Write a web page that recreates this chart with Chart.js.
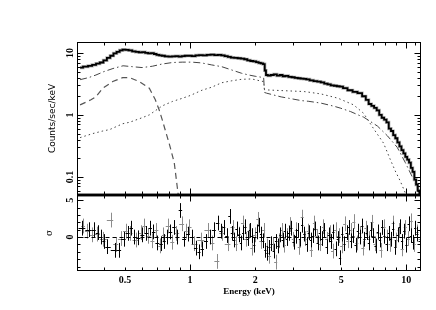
<!DOCTYPE html>
<html><head><meta charset="utf-8">
<script src="https://cdn.jsdelivr.net/npm/chart.js@4/dist/chart.umd.min.js"></script>
<style>
html,body{margin:0;padding:0;background:#fff;}
#wrap{position:relative;width:436px;height:310px;background:#fff;overflow:hidden;}
#top{position:absolute;left:0;top:0;}
#bot{position:absolute;left:0;top:190px;}
</style></head><body>
<div id="wrap">
<canvas id="top" width="436" height="200"></canvas>
<canvas id="bot" width="436" height="120"></canvas>
</div>
<script>
// ---- Observed spectrum (counts/sec/keV) ----
const E_DATA = [0.31,0.33,0.345,0.36,0.375,0.39,0.405,0.42,0.435,0.45,
0.465,0.48,0.495,0.51,0.53,0.55,0.57,0.59,0.61,0.63,
0.65,0.67,0.69,0.71,0.73,0.75,0.78,0.81,0.84,0.87,
0.90,0.93,0.96,1.0,1.04,1.08,1.12,1.17,1.22,1.27,
1.32,1.37,1.42,1.47,1.52,1.57,1.63,1.69,1.75,1.81,
1.87,1.93,1.99,2.05,2.1,2.15,2.2,2.23,2.26,2.32,
2.4,2.48,2.56,2.64,2.72,2.8,2.9,3.0,3.1,3.2,
3.3,3.4,3.5,3.65,3.8,3.95,4.1,4.25,4.4,4.55,
4.7,4.85,5.0,5.2,5.5,5.8,6.1,6.4,6.6,6.8,
7.0,7.2,7.4,7.6,7.8,8.0,8.2,8.4,8.6,8.8,
9.0,9.2,9.4,9.6,9.8,10.0,10.2,10.4,10.6,10.8,
11.0,11.2,11.4,11.6];
const RATE = [5.8,6.0,6.2,6.4,6.7,7.0,7.6,8.3,9.0,9.8,
10.4,11.0,11.3,11.2,11.0,10.6,10.4,10.2,10.3,10.0,
9.8,9.9,9.6,9.3,9.1,9.0,8.8,8.7,8.8,8.9,
8.7,8.9,9.0,9.0,8.9,9.1,9.2,9.1,9.3,9.4,
9.2,9.3,9.1,8.9,8.6,8.4,8.3,8.2,8.1,7.9,
7.6,7.4,7.3,7.1,6.9,6.8,6.6,5.2,4.4,4.3,
4.4,4.5,4.3,4.4,4.2,4.25,4.1,4.05,3.95,3.9,
3.85,3.8,3.75,3.6,3.5,3.45,3.35,3.2,3.1,3.0,
2.95,2.9,2.85,2.7,2.5,2.35,2.25,2.0,1.75,1.5,
1.4,1.3,1.18,1.0,0.9,0.84,0.76,0.6,0.55,0.47,
0.42,0.36,0.31,0.27,0.24,0.21,0.19,0.17,0.14,0.12,
0.09,0.075,0.06,0.05];

// ---- Model components ----
const E_SOFT = [0.31,0.348,0.367,0.395,0.439,0.488,0.525,0.583,0.648,0.691,0.72,0.744,0.77,0.80,0.845,0.872,0.89,0.91];
const SOFT   = [1.45,1.75,1.97,2.7,3.45,4.0,4.0,3.45,2.7,1.75,1.2,0.83,0.55,0.35,0.17,0.07,0.04,0.02];

const E_WARM = [0.31,0.34,0.367,0.40,0.44,0.49,0.54,0.60,0.67,0.74,
0.83,0.92,1.02,1.13,1.26,1.40,1.56,1.73,1.87,2.0,
2.19,2.21,2.26,2.64,2.85,3.27,3.52,4.03,4.63,4.98,
5.53,6.15,6.35,7.36,8.18,9.08,9.9,10.66,11.2,11.7];
const WARM = [3.7,4.0,4.4,5.0,5.6,6.2,6.0,5.8,6.1,6.6,
7.0,7.1,7.1,6.9,6.4,6.0,5.3,4.7,4.4,4.2,
4.0,2.3,2.24,1.95,1.86,1.7,1.66,1.55,1.38,1.28,
1.13,0.96,0.92,0.66,0.46,0.30,0.17,0.10,0.068,0.05];

const E_HOT = [0.31,0.355,0.395,0.425,0.488,0.525,0.60,0.648,0.744,0.83,
0.92,1.0,1.135,1.26,1.40,1.56,1.73,1.93,2.14,2.19,
2.21,2.26,2.85,3.37,4.03,4.83,5.71,6.35,7.06,7.85,
8.44,8.89,9.39,9.9,10.4];
const HOT = [0.43,0.5,0.55,0.58,0.72,0.76,0.9,1.0,1.4,1.65,
1.85,2.05,2.5,2.8,3.3,3.55,3.75,3.8,3.5,3.45,
2.55,2.53,2.44,2.38,2.18,1.86,1.45,1.06,0.6,0.35,
0.19,0.125,0.085,0.055,0.035];

// ---- Residuals (sigma), instrument A (black) ----
const E_RES_A = [0.316,0.340,0.359,0.374,0.387,0.399,0.412,0.448,0.467,0.493,
0.514,0.536,0.553,0.577,0.602,0.628,0.656,0.677,0.706,0.736,
0.760,0.784,0.810,0.845,0.872,0.90,0.939,0.979,1.02,1.065,
1.10,1.135,1.184,1.235,1.289,1.344,1.388,1.432,1.478,1.526,
1.56,1.60,1.64,1.68,1.72,1.76,1.80,1.85,1.89,1.94,
1.98,2.03,2.08,2.13,2.18,2.23,2.28,2.33,2.38,2.44,
2.50,2.56,2.62,2.68,2.74,2.80,2.87,2.94,3.01,3.08,
3.15,3.22,3.30,3.38,3.46,3.54,3.62,3.71,3.80,3.89,
3.98,4.08,4.18,4.28,4.38,4.49,4.60,4.71,4.82,4.94,
5.06,5.18,5.30,5.43,5.56,5.69,5.83,5.97,6.11,6.26,
6.41,6.56,6.72,6.88,7.04,7.21,7.38,7.56,7.74,7.92,
8.11,8.30,8.50,8.70,8.91,9.12,9.34,9.56,9.79,10.02,
10.26,10.50,10.75,11.00,11.26,11.52];
const RES_A = [1.2,1.0,1.0,0.6,0.0,-0.6,-1.3,-1.8,-1.8,-0.3,
0.5,1.2,0.0,-0.1,0.3,0.5,1.2,0.7,-0.8,-0.9,
-0.6,0.0,0.7,1.3,0.0,3.6,-0.3,0.4,0.0,-1.5,
-2.0,-1.6,-0.6,0.0,1.0,1.9,0.8,1.3,0.2,2.8,
0.5,-0.4,1.1,0.3,-0.8,0.6,1.4,-0.2,0.9,0.2,
-1.1,0.7,1.6,0.4,-0.5,-1.8,-2.2,-1.4,-0.9,-1.9,
-0.6,-1.2,0.3,-0.4,0.8,-0.2,0.5,1.2,-0.7,0.1,
0.9,-0.3,1.6,0.4,-1.0,0.6,-0.4,0.2,1.1,-0.8,
0.5,-0.2,0.9,-1.3,0.3,-0.6,0.7,-1.6,-0.2,-2.8,
0.4,-0.9,0.6,1.3,-0.5,0.2,-1.1,0.8,0.0,1.5,
-0.3,0.6,-0.8,1.0,0.2,-1.2,0.7,-0.4,1.3,0.1,
-0.9,0.5,-0.3,1.1,-1.4,0.3,1.4,-0.6,0.8,-1.1,
1.8,0.2,-0.7,1.2,0.4,-0.5];

// ---- Residuals (sigma), instrument B (grey) ----
const E_RES_B = [0.32,0.333,0.352,0.371,0.395,0.430,0.453,0.478,0.503,0.525,
0.560,0.590,0.615,0.642,0.669,0.699,0.729,0.752,0.793,0.827,
0.863,0.919,0.959,0.989,1.043,1.123,1.209,1.262,1.33,1.402,
1.494,
1.58,1.63,1.69,1.75,1.81,1.87,1.93,1.99,2.06,2.12,
2.19,2.26,2.33,2.41,2.49,2.57,2.65,2.73,2.82,2.91,
3.00,3.10,3.20,3.30,3.41,3.52,3.64,3.76,3.88,4.01,
4.14,4.28,4.42,4.56,4.71,4.87,5.03,5.19,5.36,5.54,
5.72,5.91,6.10,6.30,6.51,6.72,6.94,7.17,7.40,7.64,
7.89,8.15,8.42,8.69,8.98,9.27,9.58,9.89,10.21,10.55,
10.89,11.25,11.55];
const RES_B = [1.5,0.8,0.3,0.4,-0.3,2.3,-1.0,-0.2,0.8,0.5,
-0.4,0.6,1.5,0.1,-0.5,0.9,-1.2,0.3,1.5,-0.7,
0.5,1.8,0.8,1.4,-0.9,-0.4,0.9,-0.8,-3.3,0.5,
-0.9,
1.3,-0.9,0.4,1.9,-0.3,0.8,-1.5,0.3,2.4,-0.6,
0.9,-1.2,-2.6,-1.0,-3.4,-0.5,0.9,-1.1,0.2,1.7,
-0.3,1.0,-1.4,2.7,-0.2,0.8,-1.7,1.9,0.1,-0.9,
1.4,-0.3,0.6,-1.9,1.0,0.2,-1.2,1.8,-0.5,0.9,
2.1,-0.8,0.5,-1.5,1.2,-0.2,2.0,-0.9,0.6,-1.8,
1.4,0.0,-1.0,1.9,-0.4,0.9,-1.6,1.3,-0.2,2.2,
-1.0,0.7,-0.3];

// ---- Axes ----
const X_MIN = 0.31, X_MAX = 11.7;
const Y_MIN = 0.051, Y_MAX = 15;
const R_MIN = -4.6, R_MAX = 5.7;
const X_LABELS = [0.5, 1, 2, 5, 10];
const Y_LABELS = [0.1, 1, 10];
const Y_LABEL_TEXT = ['0.1', '1', '10'];
const R_LABELS = [0, 5];
const R_LABEL_TEXT = ['0', '5'];
const X_MAJOR = [1, 10];
const X_MINOR = [0.4,0.5,0.6,0.7,0.8,0.9,2,3,4,5,6,7,8,9,11];
const Y_MAJOR = [0.1, 1, 10];
const Y_MINOR = [0.06,0.07,0.08,0.09,0.2,0.3,0.4,0.5,0.6,0.7,0.8,0.9,2,3,4,5,6,7,8,9];
const R_MAJOR = [0, 5];
const R_MINOR = [-4,-3,-2,-1,1,2,3,4];

const pts = (xs, ys) => xs.map((x, i) => ({x: x, y: ys[i]}));

function makeFrame(cfg) {
  return {
    id: 'frame_' + cfg.name,
    afterDatasetsDraw(chart) {
      const ctx = chart.ctx, a = chart.chartArea;
      const xs = chart.scales.x, ys = chart.scales.y;
      const L = Math.round(a.left) + 0.5, R = Math.round(a.right) - 0.5;
      const T = Math.round(a.top) + 0.5, B = Math.round(a.bottom) - 0.5;
      ctx.save();
      ctx.strokeStyle = '#000';
      ctx.lineWidth = 1;
      if (cfg.zero) {
        ctx.setLineDash([4, 3]);
        ctx.beginPath();
        const y0 = Math.round(ys.getPixelForValue(0)) + 0.5;
        ctx.moveTo(L, y0); ctx.lineTo(R, y0);
        ctx.stroke();
        ctx.setLineDash([]);
      }
      ctx.beginPath();
      const xt = (v, len) => {
        const x = Math.round(xs.getPixelForValue(v)) + 0.5;
        if (x < L || x > R) return;
        ctx.moveTo(x, T); ctx.lineTo(x, T + len);
        ctx.moveTo(x, B); ctx.lineTo(x, B - len);
      };
      const yt = (v, len) => {
        const y = Math.round(ys.getPixelForValue(v)) + 0.5;
        if (y < T || y > B) return;
        ctx.moveTo(L, y); ctx.lineTo(L + len, y);
        ctx.moveTo(R, y); ctx.lineTo(R - len, y);
      };
      cfg.xMinor.forEach(v => xt(v, 3));
      cfg.xMajor.forEach(v => xt(v, 6));
      cfg.yMinor.forEach(v => yt(v, 3));
      cfg.yMajor.forEach(v => yt(v, 6));
      ctx.stroke();
      ctx.strokeRect(L, T, R - L, B - T);
      ctx.lineWidth = 2.5;
      ctx.beginPath();
      if (cfg.thick === 'bottom') { ctx.moveTo(a.left, a.bottom); ctx.lineTo(a.right, a.bottom); }
      else { ctx.moveTo(a.left, a.top); ctx.lineTo(a.right, a.top); }
      ctx.stroke();
      ctx.fillStyle = '#000';
      ctx.font = 'bold 10px "Liberation Serif"';
      ctx.textAlign = 'center';
      ctx.textBaseline = 'middle';
      cfg.yLabels.forEach((v, i) => {
        const y = ys.getPixelForValue(v);
        ctx.save();
        ctx.translate(70.5, y);
        ctx.rotate(-Math.PI / 2);
        ctx.fillText(cfg.yText[i], 0, 0);
        ctx.restore();
      });
      ctx.restore();
    }
  };
}

const errBars = {
  id: 'errBars',
  afterDatasetsDraw(chart) {
    const ctx = chart.ctx;
    const xs = chart.scales.x, ys = chart.scales.y;
    ctx.save();
    chart.data.datasets.forEach(ds => {
      const d = ds.data;
      ctx.strokeStyle = ds.borderColor;
      ctx.lineWidth = 1;
      ctx.beginPath();
      d.forEach((p, i) => {
        const prev = d[i - 1], next = d[i + 1];
        const lo = prev ? Math.sqrt(prev.x * p.x) : p.x * p.x / Math.sqrt(next.x * p.x);
        const hi = next ? Math.sqrt(next.x * p.x) : p.x * p.x / Math.sqrt(prev.x * p.x);
        const x = Math.round(xs.getPixelForValue(p.x)) + 0.5;
        const y = Math.round(ys.getPixelForValue(p.y)) + 0.5;
        ctx.moveTo(xs.getPixelForValue(lo), y);
        ctx.lineTo(xs.getPixelForValue(hi), y);
        ctx.moveTo(x, ys.getPixelForValue(p.y + 1));
        ctx.lineTo(x, ys.getPixelForValue(p.y - 1));
      });
      ctx.stroke();
    });
    ctx.restore();
  }
};

const common = {
  animation: false,
  responsive: false,
  events: [],
  plugins: { legend: { display: false }, tooltip: { enabled: false } }
};

new Chart(document.getElementById('top'), {
  type: 'line',
  data: {
    datasets: [
      { data: pts(E_DATA, RATE), borderColor: '#000', borderWidth: 1.8, pointRadius: 0, stepped: 'middle', order: 0 },
      { data: pts(E_DATA, RATE), borderColor: '#b4b4b4', borderWidth: 3.2, pointRadius: 0, stepped: 'middle', order: 1 },
      { data: pts(E_SOFT, SOFT), borderColor: '#555', borderWidth: 1.2, borderDash: [6, 4], pointRadius: 0, tension: 0, order: 2 },
      { data: pts(E_WARM, WARM), borderColor: '#444', borderWidth: 1, borderDash: [7, 3, 1.5, 3], pointRadius: 0, tension: 0, order: 3 },
      { data: pts(E_HOT, HOT), borderColor: '#444', borderWidth: 1, borderDash: [1.5, 3], pointRadius: 0, tension: 0, order: 4 }
    ]
  },
  options: Object.assign({}, common, {
    layout: { padding: { left: 0, right: 15, top: 42, bottom: 5 } },
    scales: {
      x: { type: 'logarithmic', min: X_MIN, max: X_MAX, display: false },
      y: {
        type: 'logarithmic', min: Y_MIN, max: Y_MAX, position: 'left',
        grid: { display: false, drawTicks: false }, border: { display: false },
        ticks: { display: false },
        title: { display: true, text: 'Counts/sec/keV', color: '#000',
                 font: { family: 'DejaVu Sans', size: 9 }, padding: { top: 47, bottom: 0 } },
        afterFit: s => { s.width = 77; }
      }
    }
  }),
  plugins: [makeFrame({ name: 'top', xMajor: X_MAJOR, xMinor: X_MINOR, yMajor: Y_MAJOR, yMinor: Y_MINOR,
                        yLabels: Y_LABELS, yText: Y_LABEL_TEXT, thick: 'bottom', zero: false })]
});

new Chart(document.getElementById('bot'), {
  type: 'scatter',
  data: {
    datasets: [
      { data: pts(E_RES_B, RES_B), borderColor: '#8c8c8c', backgroundColor: '#8c8c8c', pointRadius: 0, showLine: false },
      { data: pts(E_RES_A, RES_A), borderColor: '#000', backgroundColor: '#000', pointRadius: 0, showLine: false }
    ]
  },
  options: Object.assign({}, common, {
    layout: { padding: { left: 0, right: 15, top: 5, bottom: 0 } },
    scales: {
      x: {
        type: 'logarithmic', min: X_MIN, max: X_MAX, position: 'bottom',
        grid: { display: false, drawTicks: false }, border: { display: false },
        afterBuildTicks: s => { s.ticks = X_LABELS.map(v => ({ value: v })); },
        ticks: { autoSkip: false, maxRotation: 0, minRotation: 0, padding: 3, color: '#000',
                 font: { family: 'Liberation Serif', weight: 'bold', size: 10 },
                 callback: v => String(v) },
        title: { display: true, text: 'Energy (keV)', color: '#000',
                 font: { family: 'Liberation Serif', weight: 'bold', size: 9 }, padding: { top: 0, bottom: 13 } },
        afterFit: s => { s.height = 39; }
      },
      y: {
        type: 'linear', min: R_MIN, max: R_MAX, position: 'left',
        grid: { display: false, drawTicks: false }, border: { display: false },
        ticks: { display: false },
        title: { display: true, text: 'σ', color: '#000',
                 font: { family: 'DejaVu Serif', size: 9 }, padding: { top: 44, bottom: 0 } },
        afterFit: s => { s.width = 77; }
      }
    }
  }),
  plugins: [errBars, makeFrame({ name: 'bot', xMajor: X_MAJOR, xMinor: X_MINOR, yMajor: R_MAJOR, yMinor: R_MINOR,
                                 yLabels: R_LABELS, yText: R_LABEL_TEXT, thick: 'top', zero: true })]
});
</script>
</body></html>
